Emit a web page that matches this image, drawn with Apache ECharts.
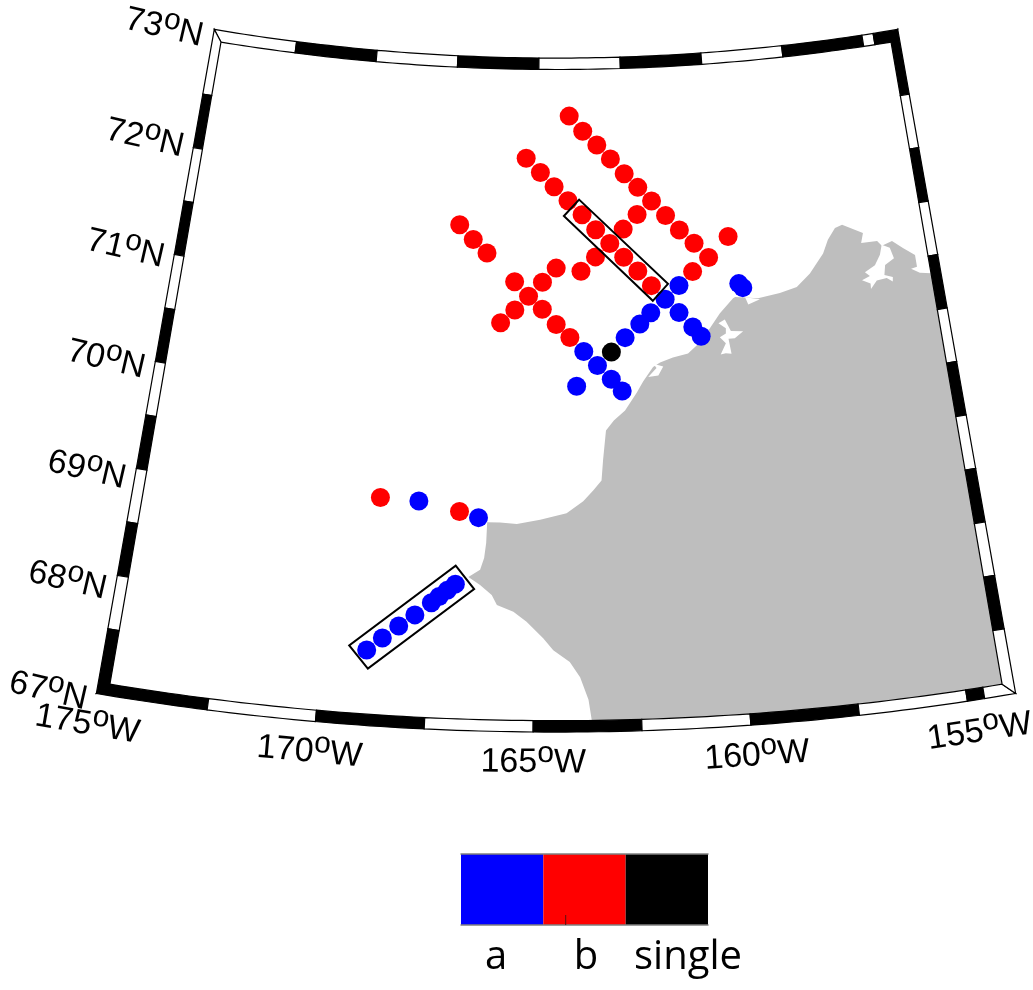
<!DOCTYPE html>
<html><head><meta charset="utf-8">
<style>html,body{margin:0;padding:0;background:#fff}#c{width:1033px;height:990px}</style>
<script src="https://cdn.jsdelivr.net/npm/echarts@6/dist/echarts.min.js"></script></head>
<body><div id="c"></div>
<script>
// ---------- data (longitude, latitude) ----------
const redPoints = [
 [-164.08,72.57],[-163.68,72.43],[-163.27,72.30],[-162.88,72.17],[-162.49,72.03],[-162.11,71.90],[-161.73,71.77],[-161.35,71.63],[-160.98,71.49],[-160.59,71.36],[-160.21,71.22],
 [-165.35,72.18],[-164.93,72.05],[-164.53,71.92],[-164.13,71.79],[-163.73,71.66],[-163.35,71.52],[-162.96,71.39],[-162.58,71.26],[-162.20,71.13],[-161.84,70.99],
 [-163.78,71.14],[-163.37,71.27],[-162.57,71.52],[-162.16,71.65],[-159.62,71.40],[-160.68,71.10],[-167.21,71.55],[-166.81,71.42],[-166.41,71.30],
 [-164.47,71.17],[-164.85,71.04],[-165.23,70.91],[-165.60,70.78],[-165.98,70.66],[-165.62,71.04],[-164.85,70.79],[-164.47,70.65],[-164.10,70.53],[-168.89,69.00],[-166.89,68.91]
];
const bluePoints = [
 [-163.73,70.40],[-163.37,70.27],[-163.01,70.14],[-162.73,70.03],[-163.93,70.08],[-162.61,70.52],[-162.20,70.64],[-161.89,70.74],[-161.48,70.86],[-161.08,70.98],[-161.12,70.73],[-160.77,70.59],[-160.56,70.50],[-159.43,70.96],[-159.33,70.92],[-167.92,68.99],
 [-166.41,68.86],[-168.95,67.59],[-168.60,67.71],[-168.23,67.83],[-167.86,67.94],[-167.48,68.06],[-167.30,68.12],[-167.11,68.18],[-166.92,68.24]
];
const singlePoints = [[-162.99,70.39]];
const boxOne = [[-163.81,71.80],[-161.38,71.00],[-161.82,70.85],[-164.25,71.65]];
const boxTwo = [[-166.93,68.41],[-166.46,68.20],[-168.89,67.42],[-169.37,67.62]];
const coast = [
 [-163.65,67],[-163.72,67.19],[-163.91,67.40],[-164.15,67.54],[-164.54,67.65],[-164.78,67.76],[-165.18,67.91],[-165.50,68.00],
 [-165.90,68.06],[-166.03,68.15],[-166.32,68.24],[-166.61,68.31],[-166.33,68.38],[-166.24,68.49],[-166.20,68.63],[-166.19,68.82],
 [-165.87,68.82],[-165.45,68.81],[-164.87,68.85],[-164.21,68.91],[-163.79,69.02],[-163.53,69.12],[-163.32,69.21],[-163.27,69.40],
 [-163.18,69.67],[-162.97,69.76],[-162.67,69.85],[-162.35,70.01],[-162.17,70.11],[-161.89,70.24],[-161.70,70.28],[-161.35,70.32],
 [-160.94,70.35],[-160.69,70.42],[-160.40,70.53],[-160.01,70.70],[-159.62,70.83],[-159.56,70.84],[-158.94,70.81],[-158.33,70.84],
 [-157.85,70.88],[-157.45,70.99],[-157.02,71.16],[-156.84,71.28],[-156.60,71.38],[-156.39,71.40],[-155.84,71.30],[-155.93,71.21],
 [-155.48,71.21],[-155.37,71.16],[-155.07,71.19],[-154.80,71.11],[-154.50,71.03],[-154.50,70.92],[-154.67,70.91],[-154.45,70.86]
];
const lakeOne = [[-155.37,71.17],[-155.46,71.08],[-155.64,70.99],[-155.94,70.94],[-155.82,70.90],[-156.05,70.87],[-155.83,70.83],[-155.84,70.78],[-155.65,70.85],[-155.37,70.86],[-155.22,70.82],[-155.20,70.86],[-155.42,70.89],[-155.36,70.98],[-155.09,71.03],[-155.16,71.13]];
const lakeTwo = [[-160.07,70.61],[-159.89,70.64],[-159.75,70.53],[-159.42,70.52],[-159.66,70.46],[-159.83,70.46],[-159.78,70.32],[-159.93,70.33],[-160.07,70.32],[-159.91,70.42],[-160.06,70.48],[-159.89,70.51],[-159.88,70.56]];
const inletOne = [[-159.29,70.83],[-159.22,70.76],[-158.89,70.80]];
const inletTwo = [[-161.88,70.27],[-161.62,70.24],[-161.76,70.16],[-162.03,70.15],[-161.80,70.23]];
const latLabels = [73,72,71,70,69,68,67];
const lonLabels = [175,170,165,160,155];
const legendNames = ['a','b','single'];
const legendColors = ['#0000ff','#ff0000','#000000'];
const legendValues = [1,1,1];
const lonWest = -174.8, lonEast = -154.15, latS = 67, latN = 73;
const topTicks = [lonWest,-172.5,-170,-167.5,-165,-162.5,-160,-157.5,-155,-154.65,lonEast];
const bottomTicks = [lonWest,-172.5,-170,-167.5,-165,-162.5,-160,-157.5,-155,-154.6,lonEast];
const latTicks = [73,72.5,72,71.5,71,70.5,70,69.5,69,68.5,68,67.5,67];

// ---------- conic projection ----------
const RAD = Math.PI/180, C0 = -164.475, CONE = 0.928, R67 = 2680, DR = 111.2, SY = 0.976, CX = 556, PY = -1895;
const projection = {
  project: p => { const t=(p[0]-C0)*CONE*RAD, r=R67-DR*(p[1]-67); return [CX+r*Math.sin(t), PY+SY*r*Math.cos(t)]; },
  unproject: q => { const dx=q[0]-CX, dy=(q[1]-PY)/SY; return [C0+Math.atan2(dx,dy)/RAD/CONE, 67+(R67-Math.hypot(dx,dy))/DR]; }
};
function parallel(lat,a,b){const n=Math.max(1,Math.ceil(Math.abs(b-a)/0.25)),o=[];for(let i=0;i<=n;i++)o.push([a+(b-a)*i/n,lat]);return o;}
const domain = [...parallel(latN,lonWest,lonEast),...parallel(latS,lonEast,lonWest)];
domain.push(domain[0]);
const land = [...coast,[lonEast,70.84],[lonEast,69],...parallel(latS,lonEast,coast[0][0])];
land.push(land[0]);
const ring = a => [[...a,a[0]]];
const feature = (name,coords) => ({type:'Feature',properties:{name},geometry:{type:'Polygon',coordinates:coords}});
echarts.registerMap('arctic',{type:'FeatureCollection',features:[
  feature('domain',[domain]),feature('land',[land]),
  feature('lakeOne',ring(lakeOne)),feature('lakeTwo',ring(lakeTwo)),feature('inletOne',ring(inletOne)),feature('inletTwo',ring(inletTwo))
]});
const xy = domain.map(projection.project);
const minX=Math.min(...xy.map(p=>p[0])),maxX=Math.max(...xy.map(p=>p[0])),minY=Math.min(...xy.map(p=>p[1])),maxY=Math.max(...xy.map(p=>p[1]));

// ---------- frame cells ----------
const dLat=0.105, dLon=0.27, cells=[];
function hCells(lat,s,ticks,firstBlack){for(let i=0;i+1<ticks.length;i++){const a=ticks[i],b=ticks[i+1];
  const A=a===lonWest?a-dLon:a,B=b===lonEast?b+dLon:b;
  cells.push({pts:[...parallel(lat,a,b),...parallel(lat+s*dLat,B,A)],black:(i%2===0)===firstBlack});}}
function vCells(lon,s,firstBlack){for(let i=0;i+1<latTicks.length;i++){const a=latTicks[i],b=latTicks[i+1];
  const A=a===latN?a+dLat:a,B=b===latS?b-dLat:b;
  cells.push({pts:[[lon,a],[lon,b],[lon+s*dLon,B],[lon+s*dLon,A]],black:(i%2===0)===firstBlack});}}
hCells(latN,1,topTicks,false);hCells(latS,-1,bottomTicks,true);vCells(lonWest,-1,false);vCells(lonEast,1,true);

const deg=(n,u)=>`{d|${n}}{s|o}{d|${u}}`;
const rich={d:{fontFamily:'Liberation Sans',fontSize:34,color:'#000',lineHeight:40},
            s:{fontFamily:'Liberation Sans',fontSize:30,color:'#000',lineHeight:30,verticalAlign:'bottom',padding:[0,0,14,0]}};
function labelItem(api,p,dx,dy,rot,text){const c=api.coord(p);return {type:'text',x:c[0]+dx,y:c[1]+dy,rotation:rot,silent:true,
  style:{text,rich,align:'center',verticalAlign:'middle',fill:'#000'}};}
const labelData=[...latLabels.map(v=>[lonWest,v,0]),...lonLabels.map(v=>[-v,latS,1])];
const outline=(box)=>({type:'custom',coordinateSystem:'geo',z:6,silent:true,data:[box[0]],clip:false,
  renderItem:(p,api)=>({type:'polygon',shape:{points:box.map(q=>api.coord(q))},style:{fill:'none',stroke:'#000',lineWidth:2}})});
const dots=(name,data,color,z)=>({name,type:'scatter',coordinateSystem:'geo',data,symbol:'circle',symbolSize:19,z,silent:true,
  itemStyle:{color,opacity:1}});

const option={animation:false,backgroundColor:'#fff',
 geo:{map:'arctic',projection,roam:false,silent:true,left:minX,top:minY,width:maxX-minX,height:maxY-minY,
  label:{show:false},emphasis:{disabled:true},select:{disabled:true},
  itemStyle:{areaColor:'#fff',borderWidth:0},
  regions:[{name:'land',itemStyle:{areaColor:'#bebebe',borderWidth:0}}]},
 grid:{left:461,top:854,width:247,height:71,containLabel:false},
 xAxis:[{type:'category',data:legendNames,position:'bottom',z:5,axisLine:{show:true,lineStyle:{color:'#808080',width:1.5}},axisTick:{show:false},axisLabel:{show:false}},
        {type:'category',data:legendNames,position:'top',z:5,axisLine:{show:true,lineStyle:{color:'#808080',width:1.5}},axisTick:{show:false},axisLabel:{show:false}}],
 yAxis:{type:'value',min:0,max:1,show:false},
 series:[
  {type:'bar',xAxisIndex:0,barCategoryGap:0,silent:true,data:legendValues.map((v,i)=>({value:v,itemStyle:{color:legendColors[i]}}))},
  dots('b',redPoints,'#ff0000',3),dots('a',bluePoints,'#0000ff',4),dots('single',singlePoints,'#000000',5),
  outline(boxOne),outline(boxTwo),
  {type:'custom',coordinateSystem:'geo',z:7,silent:true,clip:false,data:cells.map(c=>c.pts[0].concat([cells.indexOf(c)])),
   renderItem:(p,api)=>{const c=cells[p.dataIndex];return {type:'polygon',shape:{points:c.pts.map(q=>api.coord(q))},
     style:{fill:c.black?'#000':'#fff',stroke:'#000',lineWidth:1.2}};}},
  {type:'custom',coordinateSystem:'geo',z:8,silent:true,clip:false,data:labelData,
   renderItem:(p,api)=>{const d=labelData[p.dataIndex];
     if(d[2]===0){const k=73-d[1];return labelItem(api,d,-57-k*0.8,-14+k*3.5,-13*RAD,deg(d[1],'N'));}
     return labelItem(api,d,(d[0]+165)*1.4,42,(d[0]-C0)*CONE*RAD,deg(-d[0],'W'));}}
 ],
 graphic:[
  {type:'line',silent:true,z:9,shape:{x1:565.7,y1:915,x2:565.7,y2:925},style:{stroke:'#5a1010',lineWidth:1}},
  ...legendNames.map((t,i)=>({type:'text',silent:true,z:9,x:[496,586,688][i],y:958,
    style:{text:t,align:'center',verticalAlign:'middle',fill:'#000',font:"40px 'Open Sans'"}}))
 ]};
echarts.init(document.getElementById('c'),null,{renderer:'canvas'}).setOption(option);
</script></body></html>
